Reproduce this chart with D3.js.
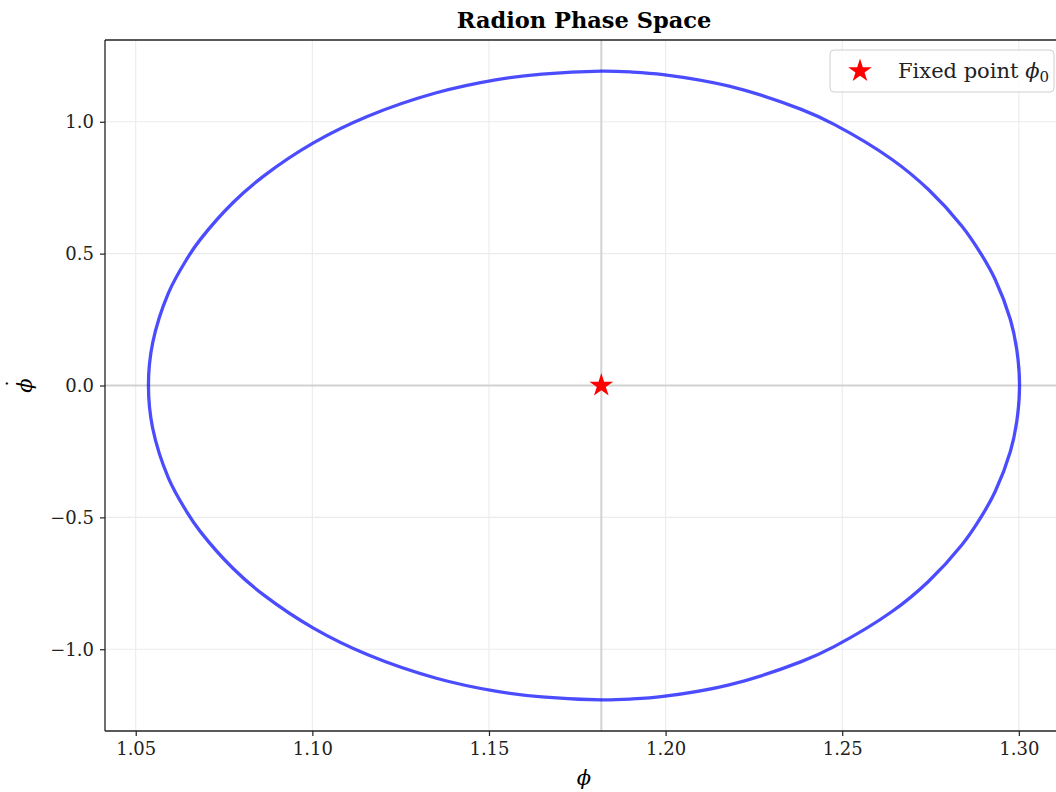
<!DOCTYPE html>
<html>
<head>
<meta charset="utf-8">
<script src="https://cdn.jsdelivr.net/npm/d3@7"></script>
<style>
  body { margin: 0; background: #fff; }
  svg { display: block; font-family: "DejaVu Serif", serif; }
</style>
</head>
<body>
<svg id="chart" width="1056" height="792"></svg>
<script>
// trajectory (one closed orbit, clockwise from the left turning point)
var phi = [1.0536, 1.0548, 1.0593, 1.0644, 1.0683, 1.0775, 1.0862, 1.1003, 1.1157, 1.1351, 1.1523, 1.1650, 1.1818,
           1.1900, 1.1993, 1.2180, 1.2384, 1.2477, 1.2641, 1.2744, 1.2839, 1.2892, 1.2933, 1.2976, 1.2994, 1.3002,
           1.2994, 1.2976, 1.2933, 1.2892, 1.2839, 1.2744, 1.2641, 1.2477, 1.2384, 1.2180, 1.1993, 1.1900,
           1.1818, 1.1650, 1.1523, 1.1351, 1.1157, 1.1003, 1.0862, 1.0775, 1.0683, 1.0644, 1.0593, 1.0548];
var phiDot = [0.000, 0.162, 0.352, 0.478, 0.554, 0.693, 0.794, 0.920, 1.021, 1.110, 1.160, 1.181, 1.192,
              1.189, 1.179, 1.135, 1.047, 0.990, 0.857, 0.743, 0.604, 0.501, 0.402, 0.250, 0.137, 0.000,
              -0.137, -0.250, -0.402, -0.501, -0.604, -0.743, -0.857, -0.990, -1.047, -1.135, -1.179, -1.189,
              -1.192, -1.181, -1.160, -1.110, -1.021, -0.920, -0.794, -0.693, -0.554, -0.478, -0.352, -0.162];
var fixedPoint = [1.1818, 0.0];
var xTicks = [1.05, 1.10, 1.15, 1.20, 1.25, 1.30];
var yTicks = [-1.0, -0.5, 0.0, 0.5, 1.0];

var svg = d3.select('#chart');
var padL = 105, padR = 1063, padT = 40, padB = 731;

var x = d3.scaleLinear().domain([1.0413, 1.3125]).range([padL, padR]);
var y = d3.scaleLinear().domain([-1.31, 1.31]).range([padB, padT]);

// grid
var grid = svg.append('g');
grid.selectAll('line.gx').data(xTicks).enter().append('line')
  .attr('x1', function(d){ return x(d); }).attr('x2', function(d){ return x(d); })
  .attr('y1', padT).attr('y2', padB)
  .attr('stroke', '#ebebeb').attr('stroke-width', 1.1);
grid.selectAll('line.gy').data(yTicks).enter().append('line')
  .attr('y1', function(d){ return y(d); }).attr('y2', function(d){ return y(d); })
  .attr('x1', padL).attr('x2', padR)
  .attr('stroke', '#ebebeb').attr('stroke-width', 1.1);

// reference lines through the fixed point
svg.append('line')
  .attr('x1', padL).attr('x2', padR).attr('y1', y(0)).attr('y2', y(0))
  .attr('stroke', '#d2d2d2').attr('stroke-width', 2);
svg.append('line')
  .attr('x1', x(fixedPoint[0])).attr('x2', x(fixedPoint[0])).attr('y1', padT).attr('y2', padB)
  .attr('stroke', '#d2d2d2').attr('stroke-width', 2);

// orbit
var pts = phi.map(function(p, i){ return [p, phiDot[i]]; });
var line = d3.line()
  .x(function(d){ return x(d[0]); })
  .y(function(d){ return y(d[1]); })
  .curve(d3.curveCatmullRomClosed.alpha(0.5));
svg.append('path')
  .datum(pts)
  .attr('d', line)
  .attr('fill', 'none')
  .attr('stroke', '#0000ff')
  .attr('stroke-opacity', 0.7)
  .attr('stroke-width', 3.3);

// fixed point
var star = d3.symbol().type(d3.symbolStar).size(175);
svg.append('path')
  .attr('d', star)
  .attr('transform', 'translate(' + x(fixedPoint[0]) + ',' + y(fixedPoint[1]) + ')')
  .attr('fill', '#ff0000');

// axes
var xAxis = d3.axisBottom(x).tickValues(xTicks).tickFormat(d3.format('.2f')).tickSizeOuter(0).tickSize(5).tickPadding(6);
var yAxis = d3.axisLeft(y).tickValues(yTicks).tickFormat(function(d){ return d3.format('.1f')(d).replace('-', '\u2212'); }).tickSizeOuter(0).tickSize(5).tickPadding(6);

var gx = svg.append('g').attr('transform', 'translate(0,' + padB + ')').call(xAxis);
var gy = svg.append('g').attr('transform', 'translate(' + padL + ',0)').call(yAxis);
[gx, gy].forEach(function(g){
  g.select('.domain').remove();
  g.selectAll('text').attr('font-family', 'DejaVu Serif').attr('font-size', 18).attr('fill', '#222');
  g.selectAll('line').attr('stroke', '#222').attr('stroke-width', 1.2);
});

// spines
svg.append('line').attr('x1', padL).attr('x2', padL).attr('y1', padT).attr('y2', padB).attr('stroke', '#222').attr('stroke-width', 1.3);
svg.append('line').attr('x1', padL).attr('x2', padR).attr('y1', padB).attr('y2', padB).attr('stroke', '#222').attr('stroke-width', 1.3);
svg.append('line').attr('x1', padL).attr('x2', padR).attr('y1', padT).attr('y2', padT).attr('stroke', '#222').attr('stroke-width', 1.3);
svg.append('line').attr('x1', padR).attr('x2', padR).attr('y1', padT).attr('y2', padB).attr('stroke', '#222').attr('stroke-width', 1.3);

// title and labels
svg.append('text')
  .attr('x', (padL + padR) / 2).attr('y', 28)
  .attr('text-anchor', 'middle')
  .attr('font-size', 22.5).attr('font-weight', 'bold')
  .text('Radion Phase Space');

svg.append('text')
  .attr('x', (padL + padR) / 2).attr('y', 785)
  .attr('text-anchor', 'middle')
  .attr('font-size', 21).attr('font-style', 'italic')
  .text('\u03D5');

// phi-dot: symbol plus a dot above it, rotated
var yl = svg.append('g').attr('transform', 'translate(32,' + y(0) + ') rotate(-90)');
yl.append('text')
  .attr('text-anchor', 'middle')
  .attr('font-size', 21).attr('font-style', 'italic')
  .text('\u03D5');
yl.append('text')
  .attr('x', 2).attr('y', -11)
  .attr('text-anchor', 'middle')
  .attr('font-size', 21)
  .text('\u02D9');

// legend
var lg = svg.append('g').attr('transform', 'translate(830,50)');
lg.append('rect')
  .attr('width', 224).attr('height', 42).attr('rx', 4)
  .attr('fill', '#fff').attr('fill-opacity', 0.8)
  .attr('stroke', '#d0d0d0').attr('stroke-width', 1);
lg.append('path')
  .attr('d', star)
  .attr('transform', 'translate(30,21)')
  .attr('fill', '#ff0000');
var lt = lg.append('text').attr('x', 68).attr('y', 28).attr('font-size', 21).attr('fill', '#222');
lt.append('tspan').text('Fixed point ');
lt.append('tspan').attr('font-style', 'italic').text('\u03D5');
lt.append('tspan').attr('font-size', 15).attr('dy', 4).text('0');
</script>
</body>
</html>
